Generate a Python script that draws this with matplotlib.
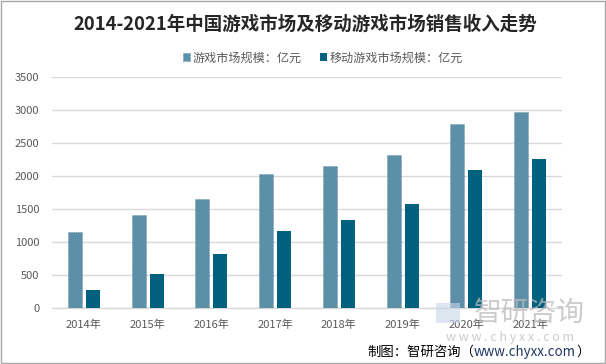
import matplotlib
matplotlib.use("Agg")
import matplotlib.pyplot as plt
import numpy as np
from matplotlib.patches import Rectangle

plt.rcParams['font.family'] = ['Noto Sans CJK SC', 'DejaVu Sans']

years = ['2014年', '2015年', '2016年', '2017年', '2018年', '2019年', '2020年', '2021年']
game_market = [1144.8, 1407.0, 1655.7, 2036.1, 2144.4, 2308.8, 2786.9, 2965.1]
mobile_market = [274.9, 514.6, 819.2, 1161.2, 1339.6, 1581.1, 2096.8, 2255.4]
series_names = ['游戏市场规模：亿元', '移动游戏市场规模：亿元']
yticks = [0, 500, 1000, 1500, 2000, 2500, 3000, 3500]

c_light = '#5D8FA8'
c_dark = '#00617F'

fig = plt.figure(figsize=(6.06, 3.64), dpi=100)
ax = fig.add_axes([0.0858, 0.1538, 0.8416, 0.6352])

x = np.arange(len(years))
w = 0.22
off = 0.14
ax.bar(x - off, game_market, w, color=c_light, edgecolor='#4F7F96', linewidth=0.5,
       linestyle=':', label=series_names[0], zorder=3)
ax.bar(x + off, mobile_market, w, color=c_dark, label=series_names[1], zorder=3)

ax.set_xlim(-0.5, len(years) - 0.5)
ax.set_ylim(0, 3500)
ax.set_yticks(yticks)
ax.set_xticks(x)
ax.set_xticklabels(years)
ax.tick_params(axis='both', length=0, labelsize=8, colors='#595959')
ax.tick_params(axis='x', pad=8)
ax.tick_params(axis='y', pad=9)
ax.grid(axis='y', color='#D9D9D9', linewidth=1, zorder=0)
ax.set_axisbelow(True)
for s in ['top', 'right', 'left']:
    ax.spines[s].set_visible(False)
ax.spines['bottom'].set_color('#D9D9D9')
ax.spines['bottom'].set_linewidth(1)

fig.text(0.5045, 1 - 24 / 364, '2014-2021年中国游戏市场及移动游戏市场销售收入走势', ha='center', va='center',
         fontsize=13.3, fontweight='bold', color='#262626')

leg = fig.legend(loc='center', bbox_to_anchor=(0.533, 1 - 58 / 364), ncol=2, frameon=False,
                 fontsize=8.7, handlelength=0.6, handleheight=0.6, handletextpad=0.2,
                 columnspacing=1.5, labelcolor='#595959')

# watermark
fig.add_artist(Rectangle((436 / 606, 1 - 323 / 364), 24 / 606, 20 / 364,
                         transform=fig.transFigure, facecolor='#C9D6E8', edgecolor='none', alpha=0.6))
fig.text(529 / 606, 1 - 313 / 364, '智研咨询', ha='center', va='center', fontsize=20,
         color='#BBBBBB', alpha=0.75)
fig.text(510 / 606, 1 - 338 / 364, 'w w w . c h y x x . c o m', ha='center', va='center',
         fontsize=9, color='#CCCCCC')

# source line built piece by piece
renderer = fig.canvas.get_renderer()
parts = [('制图：智研咨询（', 'black'), ('www.chyxx.com', '#1F3864'), ('）', 'black')]
xpix = 367
for txt, col in parts:
    t = fig.text(xpix / 606, 1 - 352 / 364, txt, ha='left', va='center', fontsize=9.6, color=col)
    bb = t.get_window_extent(renderer=renderer)
    xpix += bb.width

fig.add_artist(Rectangle((0.001, 0.002), 0.997, 0.995, transform=fig.transFigure,
                         facecolor='none', edgecolor='#A6A6A6', linewidth=1))

fig.savefig('out.png', dpi=100)
